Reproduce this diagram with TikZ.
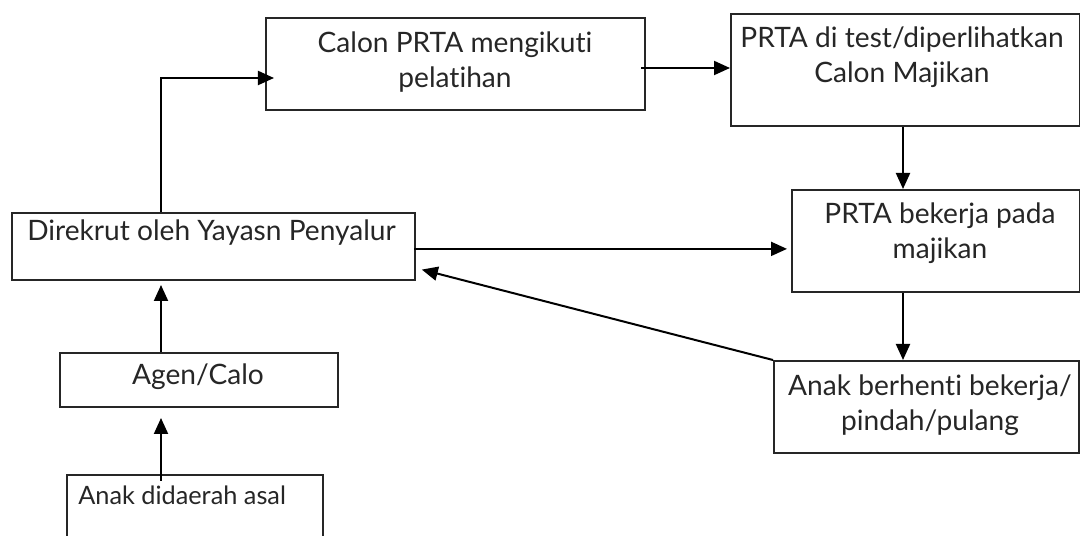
\documentclass[tikz,border=0pt]{standalone}
\usepackage{fontspec}
\setmainfont{Lato}[Ligatures={NoCommon}]
\usetikzlibrary{arrows.meta}

\begin{document}
\begin{tikzpicture}[x=0.25mm, y=-0.25mm,
		box/.style={draw=black!85, line width=0.5mm, rectangle, inner sep=0pt},
		txt/.style={inner sep=0pt, align=center, font=\fontsize{20}{24.9}\selectfont, text=black!85},
		line/.style={line width=0.5mm},
		>={Triangle[length=4mm, width=3.5mm]}]
			\useasboundingbox (0,0) rectangle (1080,536);
			\clip (0,0) rectangle (1080,536);

			% boxes
			\node[box, minimum width=94.75mm, minimum height=23mm] (latih) at (455.5,64) {};
			\node[box, minimum width=87.25mm, minimum height=28mm] (test) at (905.5,70) {};
			\node[box, minimum width=100.75mm, minimum height=16.75mm] (rekrut) at (213.5,246.5) {};
			\node[box, minimum width=72mm, minimum height=25.5mm] (kerja) at (936,241) {};
			\node[box, minimum width=76.25mm, minimum height=23mm] (henti) at (926.5,407) {};
			\node[box, minimum width=69.5mm, minimum height=13.5mm] (agen) at (199,380) {};
			\node[box, minimum width=64mm, minimum height=21.25mm] (asal) at (195,517.5) {};

			% texts
			\node[txt] (latihtext) at (455,62) {Calon PRTA mengikuti\\pelatihan};
			\node[txt] (testtext) at (902,57) {PRTA di test/diperlihatkan\\Calon Majikan};
			\node[txt, anchor=base west] (rekruttext) at (27,241) {Direkrut oleh Yayasn Penyalur};
			\node[txt] (kerjatext) at (940,233) {PRTA bekerja pada\\majikan};
			\node[txt] (hentitext) at (930,405) {Anak berhenti bekerja/\\pindah/pulang};
			\node[txt, anchor=base] (agentext) at (198,385) {Agen/Calo};
			\node[txt, anchor=base west, font=\fontsize{18}{22}\selectfont] (asaltext) at (78,505) {Anak didaerah asal};

			\coordinate (spine) at (161,0);
			\coordinate (drop) at (903,0);

			% arrows
			\draw[line, ->, shorten <=-1.75mm, shorten >=2.5mm] (asal.north -| spine) -- (agen.south -| spine);
			\draw[line, ->, shorten >=1mm] (agen.north -| spine) -- (rekrut.south -| spine);
			\draw[line, ->, shorten >=-2.25mm] (rekrut.north -| spine) |- ([yshift=-3.5mm]latih.west);
			\draw[line, ->, shorten <=-1.25mm] ([yshift=-1mm]latih.east) -- ([yshift=-1mm]latih.east -| test.west);
			\draw[line, ->] (test.south -| drop) -- (kerja.north -| drop);
			\draw[line, ->, shorten <=-0.5mm, shorten >=1mm] ([yshift=-0.6mm]rekrut.east) -- ([yshift=-0.6mm]rekrut.east -| kerja.west);
			\draw[line, ->] (kerja.south -| drop) -- (henti.north -| drop);
			\draw[line, ->, shorten >=1.5mm] (henti.north west) -- ([yshift=-5.4mm]rekrut.east);
		\end{tikzpicture}
\end{document}
